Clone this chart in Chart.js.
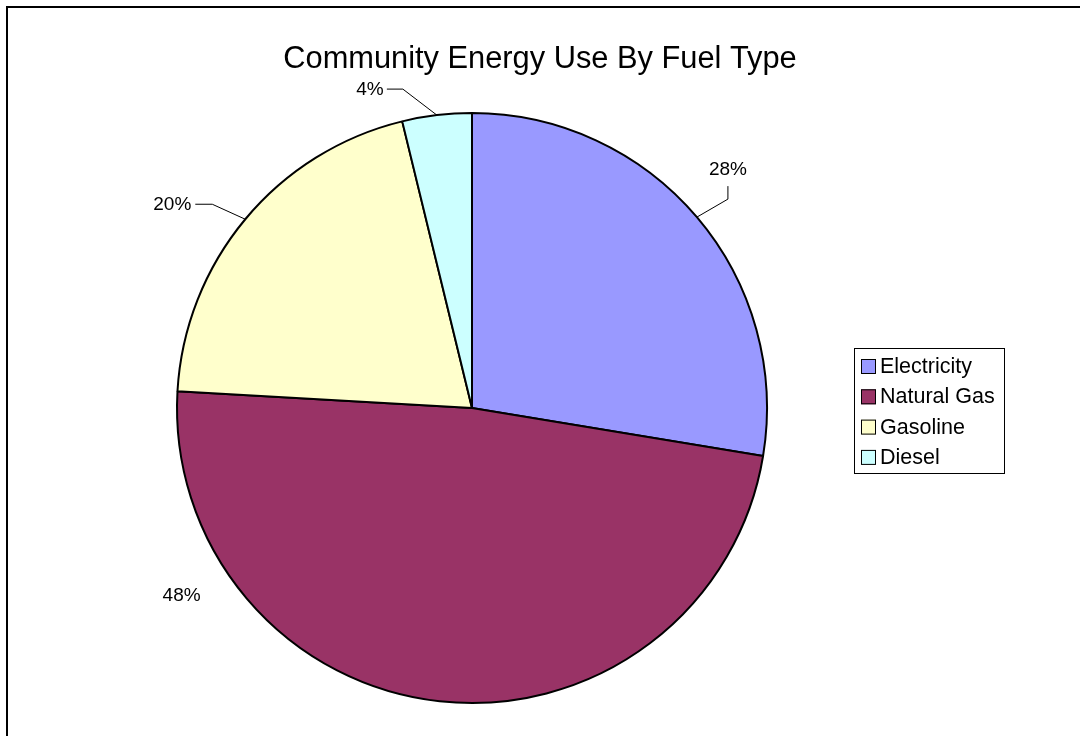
<!DOCTYPE html>
<html>
<head>
<meta charset="utf-8">
<script src="https://cdn.jsdelivr.net/npm/chart.js@4"></script>
<style>
    html, body { margin: 0; padding: 0; background: #fff; }
    #wrap { width: 1080px; height: 736px; }
</style>
</head>
<body>
<div id="wrap"><canvas id="chartCanvas" width="1080" height="736"></canvas></div>
<script>
// =========================
// Data
// =========================
const chartTitle = "Community Energy Use By Fuel Type";
const fuelTypes = ["Electricity", "Natural Gas", "Gasoline", "Diesel"];
const energyShare = [27.6, 48.3, 20.3, 3.8];
const sliceColors = ["#9999FF", "#993366", "#FFFFCC", "#CCFFFF"];

const fontFamily = "'Liberation Sans', Arial, sans-serif";

// label placement relative to the point on the arc at the slice's mid angle
const labelLayout = [
    { text: [31, -47], leader: [[31, -18], [31, -31]] },
    { text: [-258, -105], leader: null },
    { text: [-73, -14], leader: [[-33, -15], [-50, -15]] },
    { text: [-67, -25], leader: [[-34, -26], [-50, -26]] }
];

// =========================
// Frame, title, labels, legend
// =========================
const decorPlugin = {
    id: "decor",
    afterDraw(chart) {
        const ctx = chart.ctx;
        ctx.save();

        // outer frame
        ctx.strokeStyle = "#000";
        ctx.lineWidth = 2;
        ctx.strokeRect(7, 7, 1100, 760);

        // title
        ctx.fillStyle = "#000";
        ctx.font = `30.8px ${fontFamily}`;
        ctx.textAlign = "center";
        ctx.textBaseline = "middle";
        ctx.fillText(chartTitle, 540, 60);

        // percentage labels
        const total = energyShare.reduce((a, b) => a + b, 0);
        const meta = chart.getDatasetMeta(0);
        ctx.font = `19px ${fontFamily}`;
        ctx.lineWidth = 1;
        meta.data.forEach((arc, i) => {
            const p = arc.getProps(["x", "y", "startAngle", "endAngle", "outerRadius"], true);
            const mid = (p.startAngle + p.endAngle) / 2;
            const ax = p.x + Math.cos(mid) * p.outerRadius;
            const ay = p.y + Math.sin(mid) * p.outerRadius;
            const lay = labelLayout[i];
            if (lay.leader) {
                ctx.beginPath();
                ctx.moveTo(ax, ay);
                lay.leader.forEach(pt => ctx.lineTo(ax + pt[0], ay + pt[1]));
                ctx.stroke();
            }
            const pct = Math.round(energyShare[i] / total * 100) + "%";
            ctx.fillText(pct, ax + lay.text[0], ay + lay.text[1]);
        });

        // legend
        const lx = 854, ly = 348, lw = 150, lh = 125;
        ctx.fillStyle = "#fff";
        ctx.fillRect(lx, ly, lw, lh);
        ctx.strokeStyle = "#000";
        ctx.lineWidth = 1;
        ctx.strokeRect(lx + 0.5, ly + 0.5, lw, lh);
        ctx.font = `21.5px ${fontFamily}`;
        ctx.textAlign = "left";
        fuelTypes.forEach((name, i) => {
            const cy = 366 + i * 30.3;
            ctx.fillStyle = sliceColors[i];
            ctx.fillRect(861, cy - 7, 15, 15);
            ctx.strokeRect(861.5, cy - 6.5, 14, 14);
            ctx.fillStyle = "#000";
            ctx.fillText(name, 880, cy + 1);
        });

        ctx.restore();
    }
};

// =========================
// Pie chart (Chart.js)
// =========================
const ctx = document.getElementById("chartCanvas").getContext("2d");

new Chart(ctx, {
    type: "pie",
    data: {
        labels: fuelTypes,
        datasets: [{
            data: energyShare,
            backgroundColor: sliceColors,
            borderColor: "#000",
            borderWidth: 2
        }]
    },
    options: {
        responsive: false,
        animation: false,
        layout: { padding: { top: 112, bottom: 32, left: 100, right: 236 } },
        plugins: {
            legend: { display: false },
            tooltip: { enabled: false }
        }
    },
    plugins: [decorPlugin]
});
</script>
</body>
</html>
